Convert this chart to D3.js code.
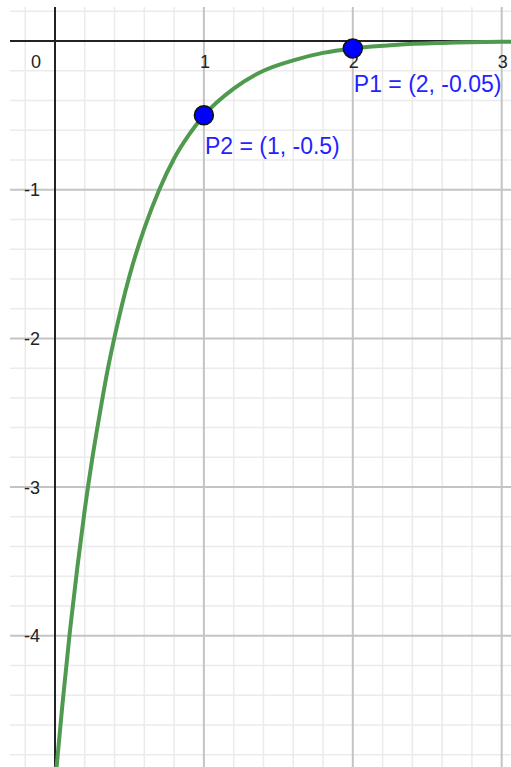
<!DOCTYPE html>
<html>
<head>
<meta charset="utf-8">
<script src="https://cdn.jsdelivr.net/npm/d3@7"></script>
<style>
  html, body { margin: 0; padding: 0; background: #fff; }
  svg { display: block; font-family: "Liberation Sans", Arial, sans-serif; }
</style>
</head>
<body>
<svg id="chart" width="511" height="767"></svg>
<script>
// curve points
var curveX = [0.01, 0.05, 0.1, 0.15, 0.2, 0.25, 0.3, 0.35, 0.4, 0.5, 0.6, 0.7, 0.8, 0.9, 1.0,
              1.2, 1.4, 1.6, 1.8, 2.0, 2.3, 2.6, 3.0, 3.1];
var curveY = [-4.89, -4.46, -3.97, -3.54, -3.15, -2.81, -2.51, -2.23, -1.99, -1.58, -1.26, -1.0,
              -0.79, -0.63, -0.5, -0.32, -0.2, -0.13, -0.08, -0.05, -0.025, -0.013, -0.005, -0.004];

var pointNames = ["P1", "P2"];
var pointX = [2, 1];
var pointY = [-0.05, -0.5];
var pointLabels = ["P1 = (2, -0.05)", "P2 = (1, -0.5)"];
var labelDy = [44, 39];

var xTicks = [1, 2, 3];
var yTicks = [-1, -2, -3, -4];

var W = 511, H = 767;
var unitX = 148.9, unitY = 148.7;
var originX = 55, originY = 41;   // pixel position of origin
var viewLeft = 10, viewTop = 7;   // graphics view edge

var x = d3.scaleLinear().domain([(viewLeft - originX) / unitX, (W - originX) / unitX]).range([viewLeft, W]);
var y = d3.scaleLinear().domain([(originY - viewTop) / unitY, -(H - originY) / unitY]).range([viewTop, H]);

var svg = d3.select("#chart");

// grid
var minorX = d3.range(-0.2, 3.1, 0.2).filter(function(v) { return Math.abs(v - Math.round(v)) > 1e-6; });
var minorY = d3.range(0.2, -5.0, -0.2).filter(function(v) { return Math.abs(v - Math.round(v)) > 1e-6; });

var grid = svg.append("g");
grid.selectAll(".mx").data(minorX).enter().append("line")
    .attr("x1", d => x(d)).attr("x2", d => x(d)).attr("y1", viewTop).attr("y2", H)
    .attr("stroke", "#ebebeb").attr("stroke-width", 1.5);
grid.selectAll(".my").data(minorY).enter().append("line")
    .attr("y1", d => y(d)).attr("y2", d => y(d)).attr("x1", viewLeft).attr("x2", W)
    .attr("stroke", "#ebebeb").attr("stroke-width", 1.5);
grid.selectAll(".Mx").data(xTicks).enter().append("line")
    .attr("x1", d => x(d)).attr("x2", d => x(d)).attr("y1", viewTop).attr("y2", H)
    .attr("stroke", "#c4c4c4").attr("stroke-width", 2);
grid.selectAll(".My").data(yTicks).enter().append("line")
    .attr("y1", d => y(d)).attr("y2", d => y(d)).attr("x1", viewLeft).attr("x2", W)
    .attr("stroke", "#c4c4c4").attr("stroke-width", 2);

// axes
svg.append("line").attr("x1", viewLeft).attr("x2", W).attr("y1", y(0)).attr("y2", y(0))
    .attr("stroke", "#222").attr("stroke-width", 2);
svg.append("line").attr("x1", x(0)).attr("x2", x(0)).attr("y1", viewTop).attr("y2", H)
    .attr("stroke", "#222").attr("stroke-width", 2);

// tick labels
svg.append("text").attr("x", x(0) - 14).attr("y", y(0) + 27).attr("text-anchor", "end")
    .attr("font-size", 18).attr("fill", "#222").text("0");
svg.selectAll(".xl").data(xTicks).enter().append("text")
    .attr("x", d => x(d) + 1).attr("y", y(0) + 27).attr("text-anchor", "middle")
    .attr("font-size", 18).attr("fill", "#222").text(d => d);
svg.selectAll(".yl").data(yTicks).enter().append("text")
    .attr("x", x(0) - 15).attr("y", d => y(d) + 6.5).attr("text-anchor", "end")
    .attr("font-size", 18).attr("fill", "#222").text(d => d);

// curve
var line = d3.line().x(d => x(d[0])).y(d => y(d[1])).curve(d3.curveMonotoneX);
svg.append("path").datum(d3.zip(curveX, curveY)).attr("d", line)
    .attr("fill", "none").attr("stroke", "#4f9a4f").attr("stroke-width", 4);

// points
var pts = svg.selectAll(".pt").data(pointNames).enter().append("g");
pts.append("circle")
    .attr("cx", (d, i) => x(pointX[i])).attr("cy", (d, i) => y(pointY[i])).attr("r", 9.5)
    .attr("fill", "#0000ff").attr("stroke", "#111").attr("stroke-width", 1.5);
pts.append("text")
    .attr("x", (d, i) => x(pointX[i]) + 1).attr("y", (d, i) => y(pointY[i]) + labelDy[i])
    .attr("font-size", 23).attr("fill", "#2323ff").text((d, i) => pointLabels[i]);
</script>
</body>
</html>
